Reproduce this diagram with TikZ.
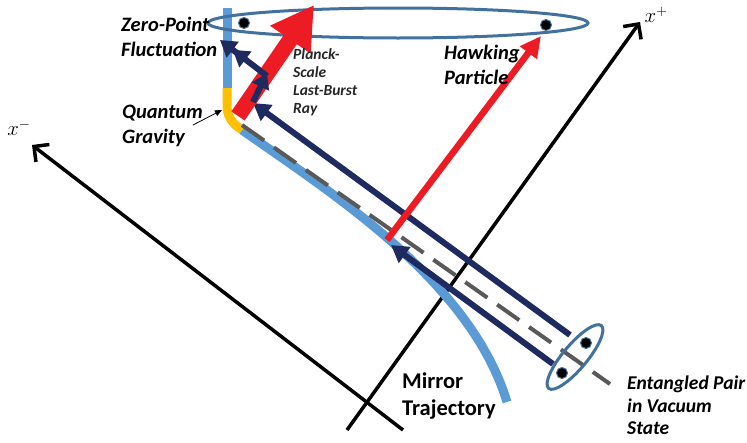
\documentclass[tikz,border=0pt]{standalone}
\usepackage{fontspec}
\newfontfamily\carl{Carlito}
\usetikzlibrary{arrows.meta}
\definecolor{mirrorblue}{HTML}{5B9BD5}
\definecolor{qyellow}{HTML}{FFC000}
\definecolor{navyray}{HTML}{1F2A60}
\definecolor{burstred}{HTML}{ED1C24}
\definecolor{ringblue}{HTML}{41719C}
\definecolor{dashgray}{HTML}{595959}
\begin{document}
\begin{tikzpicture}[x=1pt,y=-1pt,
  lbl/.style={font={\carl\bfseries\itshape\fontsize{20.5}{24.5}\selectfont}, align=left, inner sep=0pt, anchor=north west, text=black},
  eplbl/.style={font={\carl\bfseries\itshape\fontsize{19.5}{22.5}\selectfont}, align=left, inner sep=0pt, anchor=north west, text=black},
  smalllbl/.style={font={\carl\bfseries\itshape\fontsize{15.5}{18}\selectfont}, align=left, inner sep=0pt, anchor=north west, text=black!85},
  mirrorlbl/.style={font={\carl\bfseries\fontsize{22.5}{27}\selectfont}, align=left, inner sep=0pt, anchor=north west, text=black},
  axislbl/.style={font={\fontsize{21}{21}\selectfont}, inner sep=0pt},
  axis/.style={line width=3.5pt, black, -{Straight Barb[length=11pt,width=22pt]}},
  mirror/.style={line width=9pt, mirrorblue},
  navyarrow/.style={line width=6pt, navyray, -{Triangle[length=17pt,width=19pt]}},
  navydouble/.style={line width=6pt, navyray, -{Triangle[length=16pt,width=19pt]Triangle[length=16pt,width=19pt]}},
  ring/.style={line width=3pt, ringblue},
  dot/.style={circle, fill=black, draw=ringblue, line width=1pt, minimum size=11pt, inner sep=0pt},
]
\useasboundingbox (0,0) rectangle (747,442);

% axes
\coordinate (xmS) at (403,430);
\coordinate (xmE) at (32,145);
\coordinate (xpS) at (347,430);
\coordinate (xpE) at (640,22);
\draw[axis] (xmS) -- (xmE);
\draw[axis] (xpS) -- (xpE);
\node[axislbl] (xm) at (19,128) {$x^{-}$};
\node[axislbl] (xp) at (656,15) {$x^{+}$};

% mirror trajectory
\coordinate (mtop) at (227,8);
\coordinate (qgS) at (227,88);
\coordinate (qgE) at (242,130);
\coordinate (mend) at (507,402);
\draw[mirror] (mtop) -- (qgS);
\draw[mirror] (qgE) .. controls (330,192) and (470,280) .. (mend);
\draw[line width=9pt, qyellow] (qgS) -- (227,106) .. controls (227,117) and (233,124) .. (qgE);

% dashed line
\coordinate (dS) at (242,125);
\coordinate (dE) at (610,384);
\draw[line width=4pt, dashgray, dash pattern=on 27pt off 12pt] (dS) -- (dE);

% top ellipse
\draw[ring] (398,23) ellipse [x radius=190, y radius=15];

% navy rays
\coordinate (n1S) at (570,335);
\coordinate (n1E) at (253,103);
\coordinate (n2S) at (553,364);
\coordinate (n2E) at (391,245);
\coordinate (cE) at (267,73);
\coordinate (bE) at (220,40);
\draw[navyarrow] (n1S) -- (n1E);
\draw[navyarrow] (n2S) -- (n2E);

% red arrows
\coordinate (rbS) at (238,116);
\coordinate (rbE) at (314,5);
\draw[line width=16pt, burstred, -{Triangle[length=42pt,width=46pt]}] (rbS) -- (rbE);
\coordinate (hS) at (387,240);
\coordinate (hE) at (541,36);
\draw[line width=6.5pt, burstred, -{Triangle[length=21pt,width=20pt]}] (hS) -- (hE);

% short navy arrows on the burst
\draw[navyarrow, -{Triangle[length=15pt,width=18pt]}] (n1E) ++(0,-1) -- (cE);
\draw[navydouble] (267,76) -- (bE);

% small ellipse
\draw[ring, rotate around={50:(575,357)}] (575,357) ellipse [x radius=41, y radius=12];

% dots
\node[dot] (d1) at (244,23) {};
\node[dot] (d2) at (546,25) {};
\node[dot] (d3) at (586,343) {};
\node[dot] (d4) at (562,373) {};

% labels
\node[lbl] (zp) at (121,17) {Zero-Point\\Fluctuation};
\node[lbl] (qg) at (122,105) {Quantum\\Gravity};
\coordinate (qgArrS) at (193,125);
\coordinate (qgArrE) at (222,110);
\draw[line width=0.8pt, black, -{Triangle[length=7pt,width=6pt]}] (qgArrS) -- (qgArrE);
\node[smalllbl] (pl) at (293,48) {Planck-\\Scale\\Last-Burst\\Ray};
\node[lbl] (hp) at (444,45) {Hawking\\Particle};
\node[mirrorlbl] (mt) at (402,373) {Mirror\\Trajectory};
\node[eplbl] (ep) at (627,376) {Entangled Pair\\in Vacuum\\State};
\end{tikzpicture}
\end{document}
